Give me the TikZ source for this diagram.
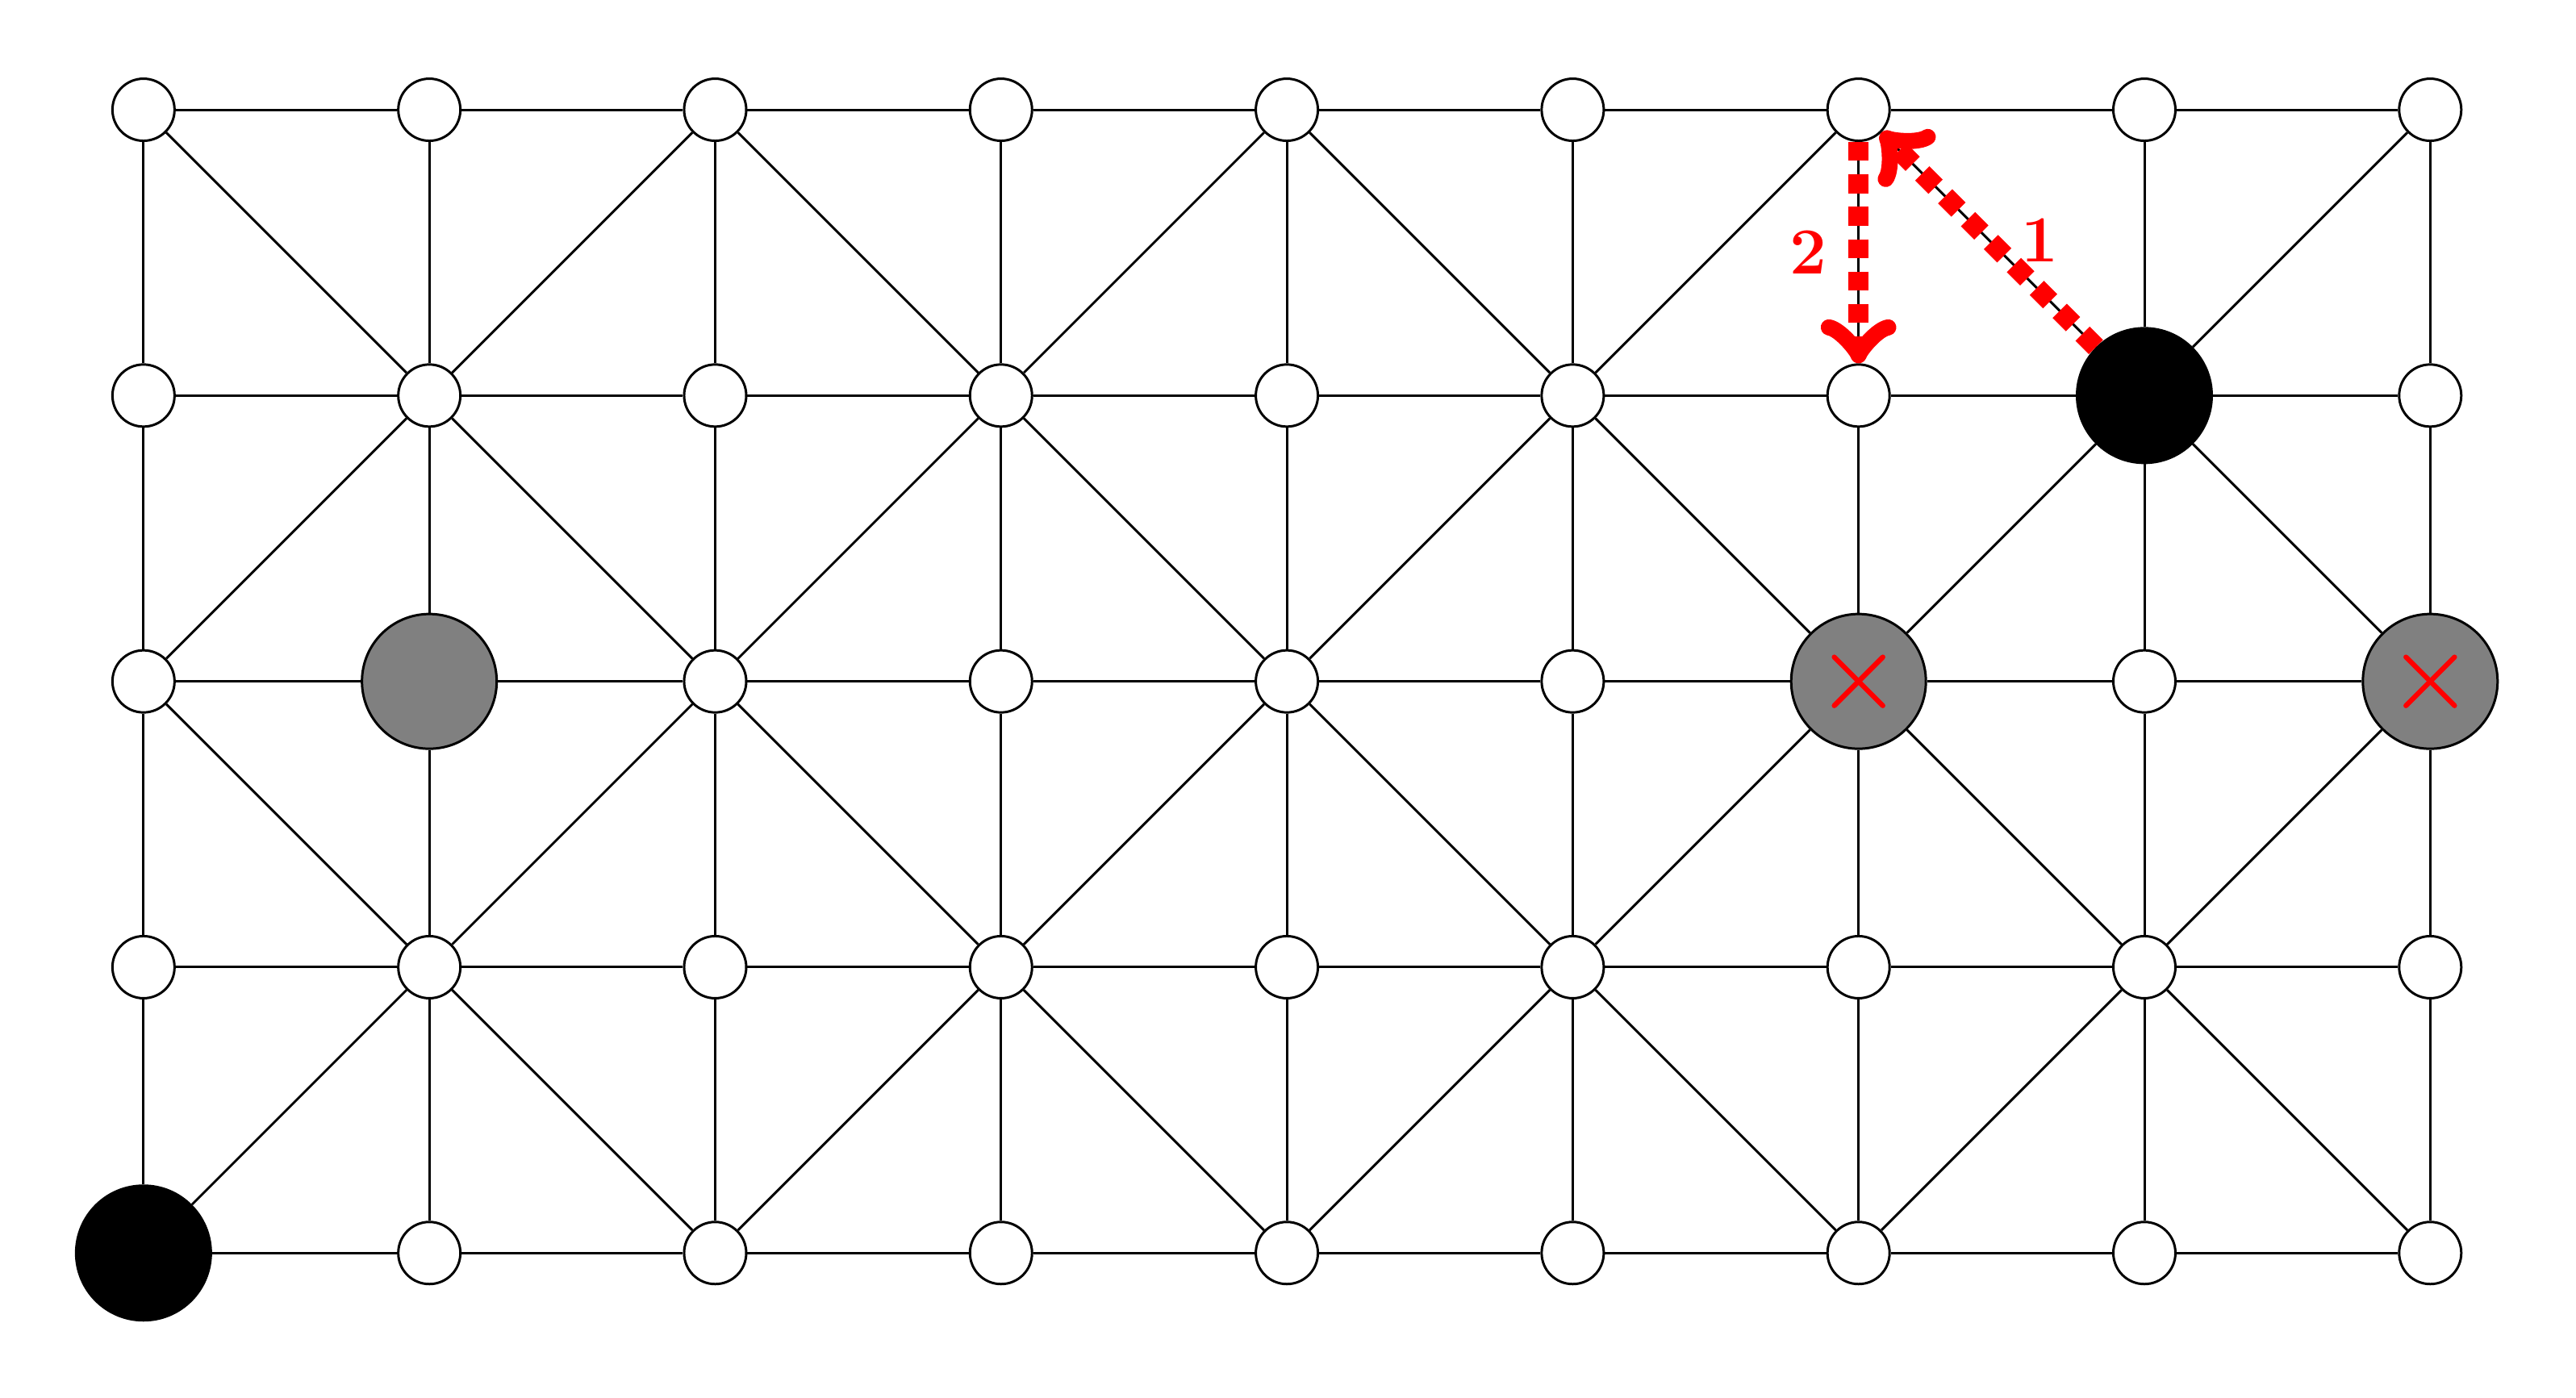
\documentclass[tikz,border=0pt]{standalone}
\usetikzlibrary{calc}
\tikzset{
  edge/.style={draw=black,line width=0.48pt},
  vtx/.style={circle,draw=black,fill=white,line width=0.48pt,inner sep=0pt,minimum size=0.4347cm},
  bigblack/.style={circle,draw=black,fill=black,line width=0.48pt,inner sep=0pt,minimum size=0.9427cm},
  biggray/.style={circle,draw=black,fill=gray,line width=0.48pt,inner sep=0pt,minimum size=0.9427cm},
  sp04/.style={bigblack},
  sp71/.style={bigblack},
  sp12/.style={biggray},
  sp62/.style={biggray},
  sp82/.style={biggray},
  move/.style={draw=red,line width=4pt,dash pattern=on 3.75pt off 2.7pt,->},
  xmark/.style={draw=red,line width=1pt,line cap=round},
  lbl/.style={text=red,font=\fontsize{13.1pt}{15pt}\selectfont\bfseries,inner sep=0pt}
}
\begin{document}
\begin{tikzpicture}[x=2cm,y=2cm]
\useasboundingbox (-0.502,0.384) rectangle (8.510,-4.505);
% vertices
\foreach \c in {0,...,8}{
  \foreach \r in {0,...,4}{
    \node[vtx,sp\c\r/.try] (n\c\r) at (\c,-\r) {};
  }
}
% horizontal edges
\foreach \c in {0,...,7}{
  \foreach \r in {0,...,4}{
    \pgfmathtruncatemacro\cn{\c+1}
    \draw[edge] (n\c\r) -- (n\cn\r);
  }
}
% vertical edges
\foreach \c in {0,...,8}{
  \foreach \r in {0,...,3}{
    \pgfmathtruncatemacro\rn{\r+1}
    \draw[edge] (n\c\r) -- (n\c\rn);
  }
}
% diagonal edges
\foreach \c in {0,...,7}{
  \foreach \r in {0,...,3}{
    \pgfmathtruncatemacro\cn{\c+1}
    \pgfmathtruncatemacro\rn{\r+1}
    \pgfmathtruncatemacro\pty{mod(\c+\r,2)}
    \ifnum\pty=0
      \draw[edge] (n\c\r) -- (n\cn\rn);
    \else
      \draw[edge] (n\cn\r) -- (n\c\rn);
    \fi
  }
}
% red crosses
\draw[xmark] ($(n62)+(-0.17cm,-0.17cm)$) -- ($(n62)+(0.17cm,0.17cm)$);
\draw[xmark] ($(n62)+(-0.17cm,0.17cm)$) -- ($(n62)+(0.17cm,-0.17cm)$);
\draw[xmark] ($(n82)+(-0.17cm,-0.17cm)$) -- ($(n82)+(0.17cm,0.17cm)$);
\draw[xmark] ($(n82)+(-0.17cm,0.17cm)$) -- ($(n82)+(0.17cm,-0.17cm)$);
% moves
\draw[move] (n71) -- (n60);
\draw[move] (n60) -- (n61);
\node[lbl] (l2) at (5.823,-0.5) {2};
\node[lbl] (l1) at (6.633,-0.457) {1};
\end{tikzpicture}
\end{document}
